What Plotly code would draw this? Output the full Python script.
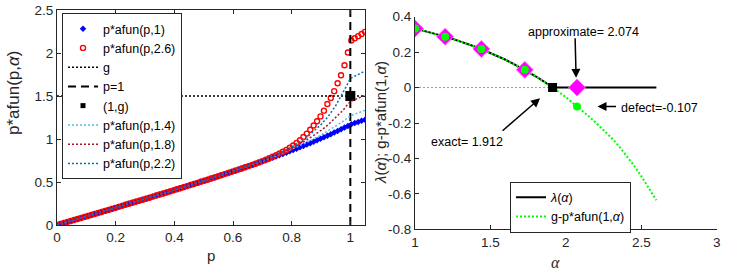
import numpy as np
import plotly.graph_objects as go

# ---------------- data: left panel ----------------
p_grid = np.linspace(0, 1.05, 91)
afun_p_1 = [0.0000, 0.0117, 0.0233, 0.0350, 0.0467, 0.0583, 0.0700, 0.0817, 0.0934, 0.1051,
            0.1168, 0.1285, 0.1403, 0.1520, 0.1638, 0.1755, 0.1873, 0.1991, 0.2109, 0.2228,
            0.2346, 0.2465, 0.2584, 0.2703, 0.2822, 0.2942, 0.3061, 0.3181, 0.3302, 0.3422,
            0.3543, 0.3664, 0.3787, 0.3909, 0.4031, 0.4153, 0.4276, 0.4399, 0.4523, 0.4647,
            0.4771, 0.4897, 0.5022, 0.5148, 0.5275, 0.5402, 0.5530, 0.5658, 0.5787, 0.5917,
            0.6047, 0.6178, 0.6310, 0.6443, 0.6577, 0.6711, 0.6846, 0.6983, 0.7120, 0.7258,
            0.7398, 0.7539, 0.7681, 0.7825, 0.7970, 0.8116, 0.8264, 0.8414, 0.8565, 0.8719,
            0.8874, 0.9031, 0.9190, 0.9352, 0.9516, 0.9683, 0.9853, 1.0025, 1.0200, 1.0378,
            1.0560, 1.0745, 1.0934, 1.1126, 1.1323, 1.1524, 1.171, 1.185, 1.198, 1.212, 1.225]
afun_p_26 = afun_p_1[:57] + [
            0.6990, 0.7134, 0.7279,
            0.7433, 0.7589, 0.7753, 0.7928, 0.8112, 0.8306, 0.8510, 0.8734, 0.8978, 0.9250,
            0.9544, 0.9859, 1.0240, 1.0630, 1.1070, 1.1564, 1.2070, 1.2630, 1.3294, 1.4065,
            1.4760, 1.5565, 1.6483, 1.7420, 1.8575, 2.0052, 2.146, 2.171, 2.196, 2.221, 2.246]

p_line = [0, 0.1, 0.2, 0.3, 0.4, 0.5, 0.6, 0.65, 0.7, 0.75, 0.8, 0.85, 0.9, 0.925,
          0.95, 0.97, 0.98, 0.99, 1.0, 1.05]
afun_p_14 = [0, 0.1001, 0.2009, 0.3028, 0.4066, 0.5135, 0.6262, 0.6837, 0.7440, 0.8086,
             0.8788, 0.9567, 1.0454, 1.0947, 1.1471, 1.1930, 1.2166, 1.2426, 1.270, 1.3335]
afun_p_18 = [0, 0.1001, 0.2009, 0.3028, 0.4067, 0.5140, 0.6274, 0.6860, 0.7489, 0.8176,
             0.8948, 0.9856, 1.0994, 1.1678, 1.2459, 1.3172, 1.3557, 1.3950, 1.436, 1.5078]
afun_p_22 = [0, 0.1001, 0.2009, 0.3028, 0.4068, 0.5142, 0.6280, 0.6873, 0.7517, 0.8236,
             0.9092, 1.0162, 1.1669, 1.2649, 1.3865, 1.5034, 1.5635, 1.6346, 1.705, 1.790]
g_value = 1.5
p_range = [0, 1.05]

# ---------------- data: right panel ----------------
alpha_grid = [1.00, 1.05, 1.10, 1.15, 1.20, 1.25, 1.30, 1.35, 1.40, 1.45, 1.50, 1.55, 1.60,
              1.65, 1.70, 1.75, 1.80, 1.85, 1.90, 1.95, 2.00, 2.05, 2.10, 2.15, 2.20, 2.25,
              2.30, 2.35, 2.40, 2.45, 2.50, 2.55, 2.60]
defect_curve = [0.3333, 0.3227, 0.3117, 0.3001, 0.2877, 0.2746, 0.2606, 0.2458, 0.2301,
                0.2134, 0.1957, 0.1769, 0.1569, 0.1357, 0.1132, 0.0892, 0.0638, 0.0369,
                0.0082, -0.0222, -0.0545, -0.0887, -0.1250, -0.1610, -0.1990, -0.2390,
                -0.2820, -0.3290, -0.3810, -0.4380, -0.5000, -0.5660, -0.6360]
lambda_alpha = [1.00, 1.05, 1.10, 1.15, 1.20, 1.25, 1.30, 1.35, 1.40, 1.45, 1.50, 1.55, 1.60,
                1.65, 1.70, 1.75, 1.80, 1.85, 1.90, 1.912, 2.60]
lambda_curve = [0.3333, 0.3227, 0.3117, 0.3001, 0.2877, 0.2746, 0.2606, 0.2458, 0.2301,
                0.2134, 0.1957, 0.1769, 0.1569, 0.1357, 0.1132, 0.0892, 0.0638, 0.0369,
                0.0082, 0.0, 0.0]
iter_alpha = [1.0, 1.2, 1.44, 1.728, 2.074]
iter_lambda = [0.333, 0.287, 0.218, 0.100, 0.0]
iter_defect = [0.333, 0.287, 0.218, 0.100, -0.107]
exact_alpha = 1.912
approx_alpha = 2.074
defect_value = -0.107

AX = "#262626"
FONT = "Liberation Sans, Arial, sans-serif"
DOT = "2px,2px"

fig = go.Figure()

# left panel
fig.add_trace(go.Scatter(x=p_grid, y=afun_p_1, mode="markers", name="p*afun(p,1)",
                         marker=dict(symbol="diamond", size=5, color="#0000FF"),
                         xaxis="x", yaxis="y", legend="legend"))
fig.add_trace(go.Scatter(x=p_grid, y=afun_p_26, mode="markers", name="p*afun(p,2.6)",
                         marker=dict(symbol="circle-open", size=5, color="#FF0000",
                                     line=dict(width=1.4, color="#FF0000")),
                         xaxis="x", yaxis="y", legend="legend"))
fig.add_trace(go.Scatter(x=p_range, y=[g_value, g_value], mode="lines", name="g",
                         line=dict(color="black", width=1.5, dash=DOT),
                         xaxis="x", yaxis="y", legend="legend"))
fig.add_trace(go.Scatter(x=[1, 1], y=[0, 2.5], mode="lines", name="p=1",
                         line=dict(color="black", width=2, dash="8px,5px"),
                         xaxis="x", yaxis="y", legend="legend"))
fig.add_trace(go.Scatter(x=[None], y=[None], mode="markers", name="(1,g)",
                         marker=dict(symbol="square", size=5, color="black"),
                         xaxis="x", yaxis="y", legend="legend", legendgroup="g1"))
fig.add_trace(go.Scatter(x=[1], y=[g_value], mode="markers", showlegend=False,
                         marker=dict(symbol="square", size=10, color="black"),
                         xaxis="x", yaxis="y", legendgroup="g1"))
for vals, nm, col in [(afun_p_14, "p*afun(p,1.4)", "#4DBEEE"),
                      (afun_p_18, "p*afun(p,1.8)", "#A2142F"),
                      (afun_p_22, "p*afun(p,2.2)", "#0072BD")]:
    fig.add_trace(go.Scatter(x=p_line, y=vals, mode="lines", name=nm,
                             line=dict(color=col, width=1.5, dash=DOT),
                             xaxis="x", yaxis="y", legend="legend"))

# right panel
fig.add_trace(go.Scatter(x=[1, exact_alpha], y=[0, 0], mode="lines", showlegend=False,
                         line=dict(color="#999999", width=1, dash=DOT),
                         xaxis="x2", yaxis="y2"))
fig.add_trace(go.Scatter(x=lambda_alpha, y=lambda_curve, mode="lines", name="<i>λ</i>(<i>α</i>)",
                         line=dict(color="black", width=2),
                         xaxis="x2", yaxis="y2", legend="legend2"))
fig.add_trace(go.Scatter(x=alpha_grid, y=defect_curve, mode="lines",
                         name="g-p*afun(1,<i>α</i>)",
                         line=dict(color="#00FF00", width=2, dash=DOT),
                         xaxis="x2", yaxis="y2", legend="legend2"))
fig.add_trace(go.Scatter(x=iter_alpha, y=iter_lambda, mode="markers", showlegend=False,
                         marker=dict(symbol="diamond", size=13, color="#FF00FF",
                                     line=dict(width=1, color="#FF66FF")),
                         xaxis="x2", yaxis="y2"))
fig.add_trace(go.Scatter(x=iter_alpha, y=iter_defect, mode="markers", showlegend=False,
                         marker=dict(symbol="circle", size=8, color="#00FF00"),
                         xaxis="x2", yaxis="y2"))
fig.add_trace(go.Scatter(x=[exact_alpha], y=[0], mode="markers", showlegend=False,
                         marker=dict(symbol="square", size=9, color="black"),
                         xaxis="x2", yaxis="y2"))

axis_common = dict(showline=True, linecolor=AX, linewidth=1, ticks="inside", ticklen=4,
                   tickcolor=AX, showgrid=False, zeroline=False, automargin=False,
                   tickfont=dict(family=FONT, size=13.5, color=AX))

fig.update_layout(
    template="none",
    width=752, height=270, margin=dict(l=0, r=0, t=0, b=0, pad=0, autoexpand=False),
    paper_bgcolor="white", plot_bgcolor="white",
    xaxis=dict(domain=[57/752, 365/752], range=p_range, tickvals=[0, 0.2, 0.4, 0.6, 0.8, 1],
               ticktext=["0", "0.2", "0.4", "0.6", "0.8", "1"], mirror="ticks",
               anchor="y", **axis_common),
    yaxis=dict(domain=[45/270, 260/270], range=[0, 2.5], tickvals=[0, 0.5, 1, 1.5, 2, 2.5],
               ticktext=["0", "0.5", "1", "1.5", "2", "2.5"], mirror="ticks",
               anchor="x", **axis_common),
    xaxis2=dict(domain=[415/752, 716.7/752], range=[1, 3], tickvals=[1, 1.5, 2, 2.5, 3],
                ticktext=["1", "1.5", "2", "2.5", "3"], anchor="y2", **axis_common),
    yaxis2=dict(domain=[40.7/270, 253.3/270], range=[-0.8, 0.4],
                tickvals=[-0.8, -0.6, -0.4, -0.2, 0, 0.2, 0.4],
                ticktext=["-0.8", "-0.6", "-0.4", "-0.2", "0", "0.2", "0.4"],
                anchor="x2", **axis_common),
    legend=dict(x=62/752, y=(270-13)/270, xanchor="left", yanchor="top",
                bgcolor="white", bordercolor=AX, borderwidth=1,
                font=dict(family=FONT, size=12.5, color="black"), tracegroupgap=0),
    legend2=dict(x=510/752, y=(270-181.7)/270, xanchor="left", yanchor="top",
                 bgcolor="white", bordercolor=AX, borderwidth=1,
                 font=dict(family=FONT, size=12.5, color="black")),
    showlegend=True,
)

def paper_text(txt, x, y, size, angle=0, family=FONT):
    return dict(text=txt, x=x/752, y=(270-y)/270, xref="paper", yref="paper",
                xanchor="center", yanchor="middle", showarrow=False, textangle=angle,
                font=dict(family=family, size=size, color=AX))

def arrow(x, y, ax, ay):
    return dict(x=x, y=y, xref="x2", yref="y2", ax=ax, ay=ay, text="", showarrow=True,
                arrowhead=2, arrowsize=1.2, arrowwidth=1.5, arrowcolor="black",
                font=dict(size=1), borderpad=0)

def data_text(txt, x, y, xanchor="center"):
    return dict(x=x, y=y, xref="x2", yref="y2", showarrow=False, text=txt,
                xanchor=xanchor, yanchor="middle",
                font=dict(family=FONT, size=12.5, color="black"))

ann = [
    paper_text("p", 211, 255, 15),
    paper_text("p*afun(p,<i>α</i>)", 13, 93, 17, angle=-90),
    paper_text("<i>α</i>", 555, 262, 16, family="Liberation Serif, serif"),
    paper_text("<i>λ</i>(<i>α</i>); g-p*afun(1,<i>α</i>)", 380, 123, 15, angle=-90),
    arrow(2.068, 0.055, -1, -40),
    arrow(2.21, defect_value, 19, 0),
    arrow(1.829, -0.06, -38, 33),
    data_text(f"approximate= {approx_alpha:.3f}", 2.12, 0.315),
    data_text(f"defect={defect_value:.3f}", 2.353, -0.113, xanchor="left"),
    data_text(f"exact= {exact_alpha:.3f}", 1.345, -0.305),
]
fig.update_layout(annotations=ann)

# the page's default 8px body margin would shift the 752x270 figure; remove it
fig.write_html("out.html", config={"displayModeBar": False},
               post_script="document.body.style.margin='0px';document.body.style.overflow='hidden';")
